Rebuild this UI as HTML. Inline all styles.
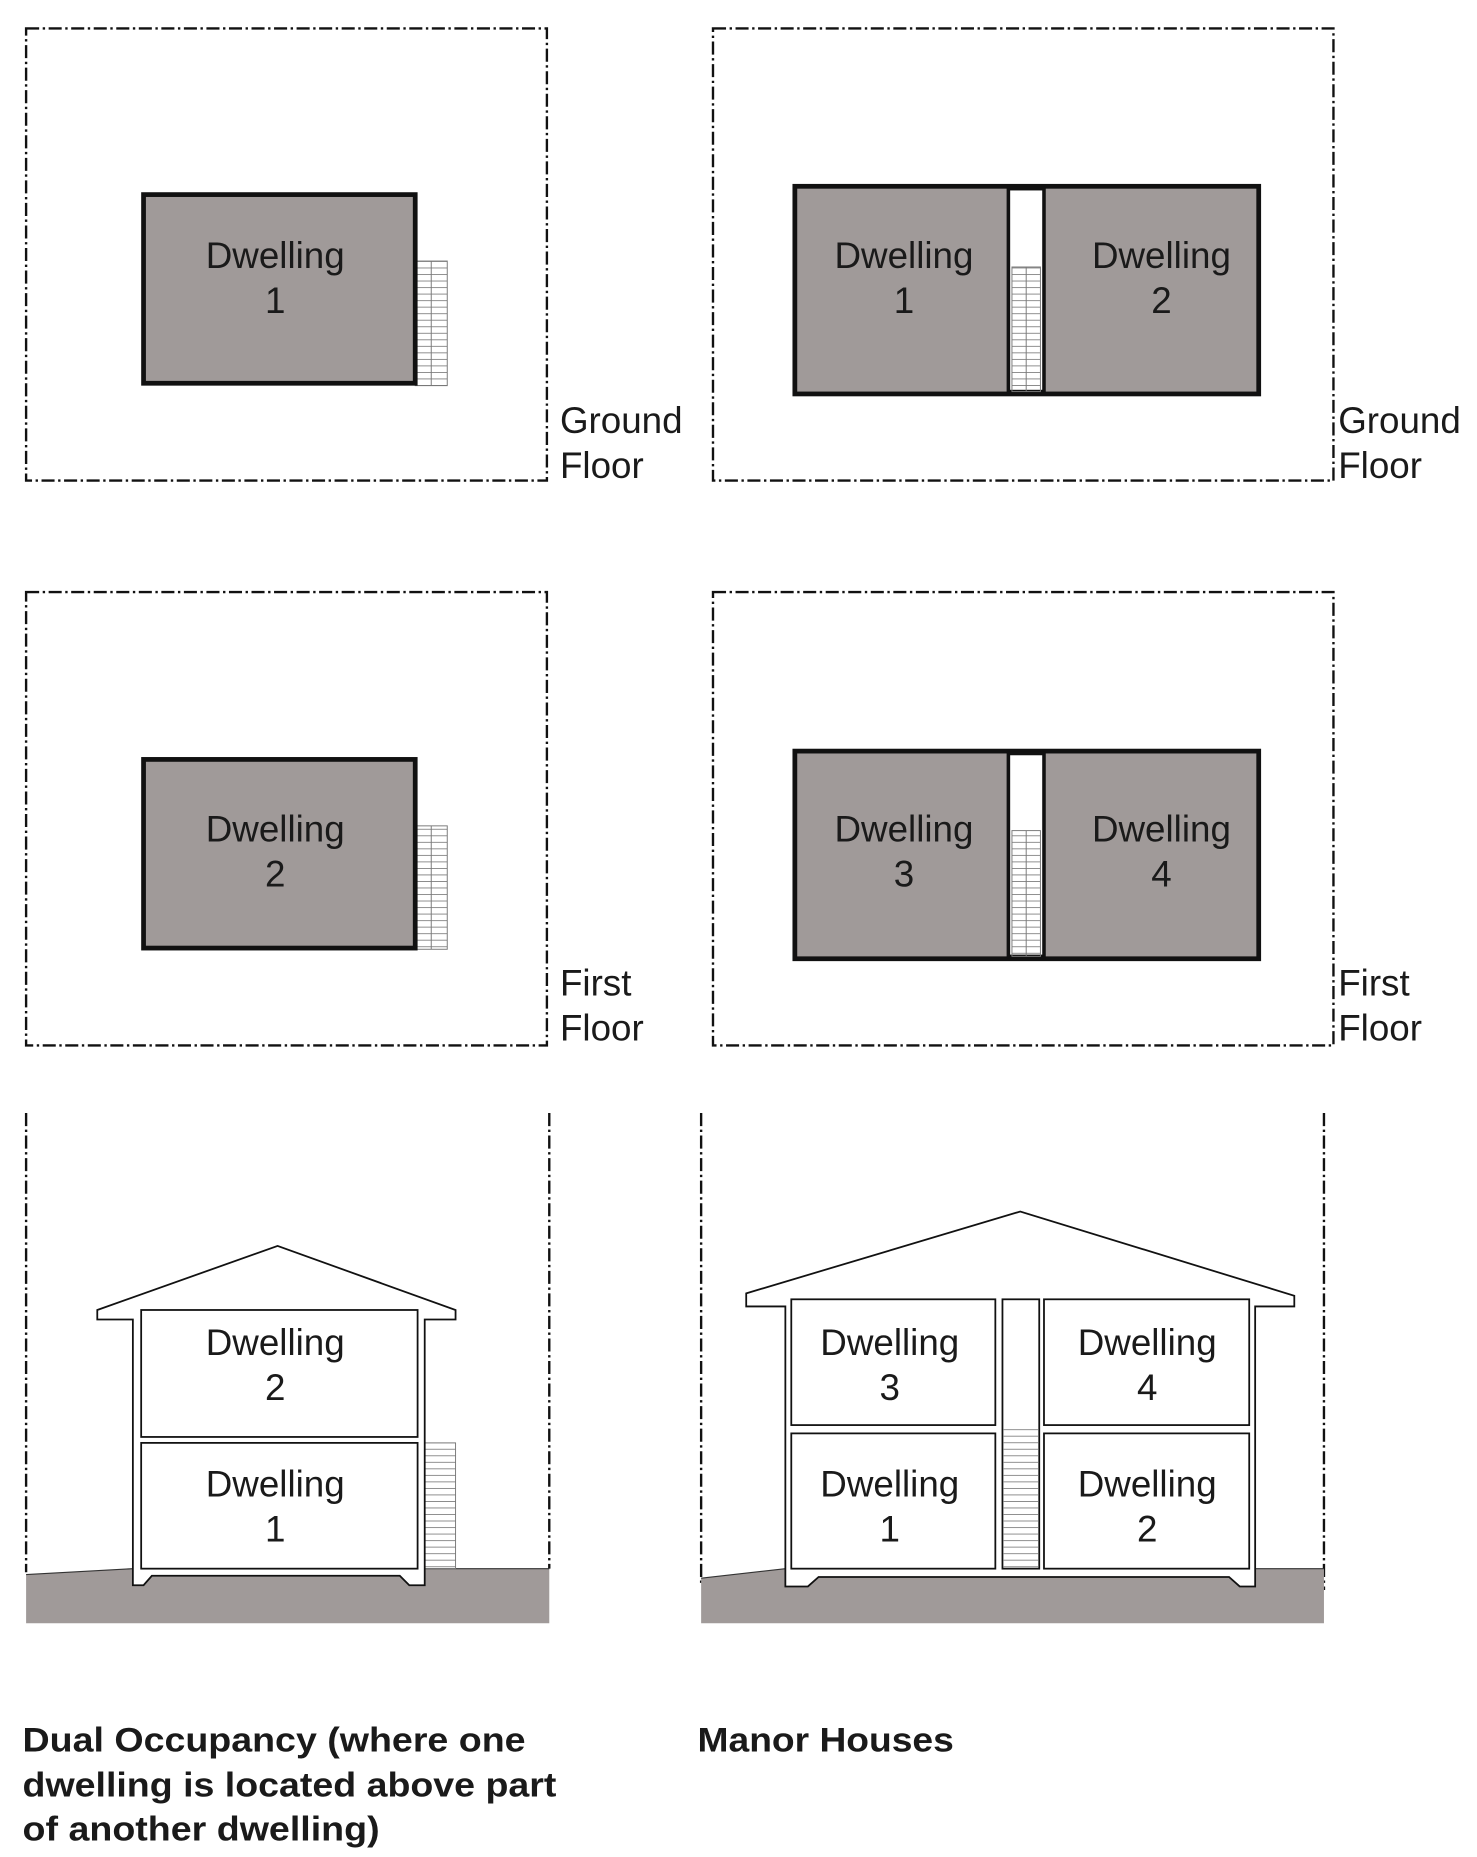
<!DOCTYPE html>
<html><head><meta charset="utf-8"><style>
html,body{margin:0;padding:0;background:#fff;}
svg{display:block;}
text{font-family:"Liberation Sans",sans-serif;fill:#1a1a1a;}
</style></head><body>
<svg width="1477" height="1857" viewBox="0 0 1245 1565" preserveAspectRatio="none" xmlns="http://www.w3.org/2000/svg">
<defs>
<pattern id="st" width="30" height="5.5" patternUnits="userSpaceOnUse" y="0">
<line x1="0" y1="0.3" x2="30" y2="0.3" stroke="#777" stroke-width="0.7"/>
</pattern>
</defs>
<g fill="none" stroke="#111" stroke-width="2" stroke-dasharray="11 3 2 3">
<rect x="22" y="24" width="439" height="381"/>
<rect x="601" y="24" width="523" height="381"/>
<rect x="22" y="499" width="439" height="382"/>
<rect x="601" y="499" width="523" height="382"/>
<line x1="22" y1="938" x2="22" y2="1325"/>
<line x1="463" y1="938" x2="463" y2="1322"/>
<line x1="591" y1="938" x2="591" y2="1335"/>
<line x1="1116" y1="938" x2="1116" y2="1340"/>
</g>

<g font-size="31">
<!-- Left plan ground -->
<rect x="350" y="220" width="27" height="105" fill="url(#st)" stroke="#777" stroke-width="0.8"/>
<line x1="363.5" y1="220" x2="363.5" y2="325" stroke="#777" stroke-width="0.8"/>
<rect x="121" y="164" width="229" height="159" fill="#a09a99" stroke="#111" stroke-width="4"/>
<text x="232" y="226" text-anchor="middle">Dwelling</text>
<text x="232" y="264" text-anchor="middle">1</text>
<text x="472" y="365">Ground</text>
<text x="472" y="403">Floor</text>

<!-- Left plan first -->
<rect x="350" y="696" width="27" height="104" fill="url(#st)" stroke="#777" stroke-width="0.8"/>
<line x1="363.5" y1="696" x2="363.5" y2="800" stroke="#777" stroke-width="0.8"/>
<rect x="121" y="640" width="229" height="159" fill="#a09a99" stroke="#111" stroke-width="4"/>
<text x="232" y="709" text-anchor="middle">Dwelling</text>
<text x="232" y="747" text-anchor="middle">2</text>
<text x="472" y="839">First</text>
<text x="472" y="877">Floor</text>

<!-- Right plan ground -->
<rect x="670" y="157" width="391" height="175" fill="#a09a99" stroke="#111" stroke-width="4"/>
<rect x="850" y="159" width="30" height="171" fill="#fff" stroke="#111" stroke-width="3"/>
<rect x="853" y="225" width="24" height="105" fill="url(#st)" stroke="#777" stroke-width="0.8"/>
<line x1="865" y1="225" x2="865" y2="330" stroke="#777" stroke-width="0.8"/>
<text x="762" y="226" text-anchor="middle">Dwelling</text>
<text x="762" y="264" text-anchor="middle">1</text>
<text x="979" y="226" text-anchor="middle">Dwelling</text>
<text x="979" y="264" text-anchor="middle">2</text>
<text x="1128" y="365">Ground</text>
<text x="1128" y="403">Floor</text>

<!-- Right plan first -->
<rect x="670" y="633" width="391" height="175" fill="#a09a99" stroke="#111" stroke-width="4"/>
<rect x="850" y="635" width="30" height="171" fill="#fff" stroke="#111" stroke-width="3"/>
<rect x="853" y="700" width="24" height="106" fill="url(#st)" stroke="#777" stroke-width="0.8"/>
<line x1="865" y1="700" x2="865" y2="806" stroke="#777" stroke-width="0.8"/>
<text x="762" y="709" text-anchor="middle">Dwelling</text>
<text x="762" y="747" text-anchor="middle">3</text>
<text x="979" y="709" text-anchor="middle">Dwelling</text>
<text x="979" y="747" text-anchor="middle">4</text>
<text x="1128" y="839">First</text>
<text x="1128" y="877">Floor</text>

<!-- Left section -->
<polygon points="22,1327 112,1322 463,1322 463,1368 22,1368" fill="#a09a99"/>
<polyline points="22,1327 112,1322" fill="none" stroke="#333" stroke-width="1"/>
<line x1="358" y1="1322" x2="463" y2="1322" stroke="#333" stroke-width="1"/>
<rect x="358" y="1216" width="26" height="106" fill="url(#st)" stroke="#777" stroke-width="0.8"/>
<path d="M82,1104 L234,1050 L384,1104 L384,1112 L358,1112 L358,1336 L345,1336 L337,1328 L128,1328 L121,1336 L112,1336 L112,1112 L82,1112 Z" fill="#fff" stroke="#111" stroke-width="1.5"/>
<rect x="119" y="1104" width="233" height="107" fill="#fff" stroke="#111" stroke-width="1.5"/>
<rect x="119" y="1216" width="233" height="106" fill="#fff" stroke="#111" stroke-width="1.5"/>
<text x="232" y="1142" text-anchor="middle">Dwelling</text>
<text x="232" y="1180" text-anchor="middle">2</text>
<text x="232" y="1261" text-anchor="middle">Dwelling</text>
<text x="232" y="1299" text-anchor="middle">1</text>

<!-- Right section -->
<polygon points="591,1330 662,1322 1116,1322 1116,1368 591,1368" fill="#a09a99"/>
<polyline points="591,1330 662,1322" fill="none" stroke="#333" stroke-width="1"/>
<line x1="1058" y1="1322" x2="1116" y2="1322" stroke="#333" stroke-width="1"/>
<path d="M629,1090 L860,1021 L1091,1092 L1091,1101 L1058,1101 L1058,1337 L1045,1337 L1036,1329 L690,1329 L681,1337 L662,1337 L662,1101 L629,1101 Z" fill="#fff" stroke="#111" stroke-width="1.5"/>
<rect x="667" y="1095" width="172" height="106" fill="#fff" stroke="#111" stroke-width="1.5"/>
<rect x="667" y="1208" width="172" height="114" fill="#fff" stroke="#111" stroke-width="1.5"/>
<rect x="880" y="1095" width="173" height="106" fill="#fff" stroke="#111" stroke-width="1.5"/>
<rect x="880" y="1208" width="173" height="114" fill="#fff" stroke="#111" stroke-width="1.5"/>
<rect x="845" y="1095" width="31" height="227" fill="#fff" stroke="#111" stroke-width="1.5"/>
<rect x="846" y="1201" width="29" height="120" fill="url(#st)"/>
<text x="750" y="1142" text-anchor="middle">Dwelling</text>
<text x="750" y="1180" text-anchor="middle">3</text>
<text x="967" y="1142" text-anchor="middle">Dwelling</text>
<text x="967" y="1180" text-anchor="middle">4</text>
<text x="750" y="1261" text-anchor="middle">Dwelling</text>
<text x="750" y="1299" text-anchor="middle">1</text>
<text x="967" y="1261" text-anchor="middle">Dwelling</text>
<text x="967" y="1299" text-anchor="middle">2</text>
</g>

<!-- Captions -->
<g font-weight="bold" font-size="29">
<text x="19" y="1476" textLength="424" lengthAdjust="spacingAndGlyphs">Dual Occupancy (where one</text>
<text x="19" y="1514" textLength="450" lengthAdjust="spacingAndGlyphs">dwelling is located above part</text>
<text x="19" y="1551" textLength="301" lengthAdjust="spacingAndGlyphs">of another dwelling)</text>
<text x="588" y="1476" textLength="216" lengthAdjust="spacingAndGlyphs">Manor Houses</text>
</g>
</svg>
</body></html>
